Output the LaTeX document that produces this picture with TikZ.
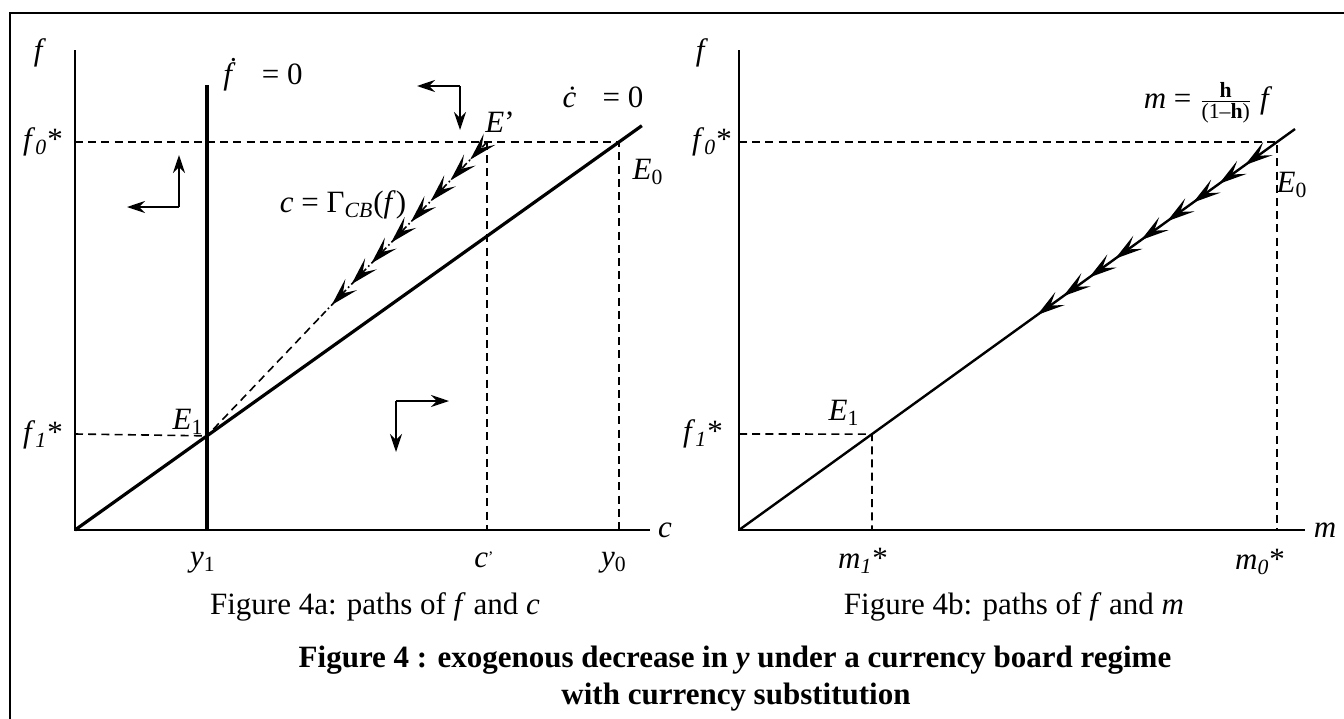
\documentclass[tikz,border=0pt]{standalone}
\usepackage{amsmath}
\usepackage{fontspec}
\setmainfont{Liberation Serif}
\usetikzlibrary{arrows.meta,decorations.markings,calc}

\tikzset{
  frame/.style={line width=1pt},
  axis/.style={line width=0.9pt},
  locus/.style={line width=1.6pt},
  ray/.style={line width=1.2pt},
  guide/.style={line width=0.8pt, dash pattern=on 4pt off 2.6pt},
  dashdotline/.style={line width=0.8pt, dash pattern=on 3.5pt off 1.5pt on 0.8pt off 1.5pt},
  turn/.style={line width=1pt, -{Stealth[length=9pt,width=6pt,inset=3pt]}},
  lbl/.style={inner sep=0pt, font=\fontsize{15.5}{18}\selectfont},
  % little arrows sitting on a path
  pathtips/.style args={#1 and #2 step #3}{postaction={decorate},
    decoration={markings, mark=between positions #1 and #2 step #3 with
      {\arrow{Stealth[length=14pt,width=8pt,inset=6pt]}}}}
}

\begin{document}
\begin{tikzpicture}[x=0.5pt,y=-0.5pt]

  \useasboundingbox (0,0) rectangle (1344,718);
  \clip (0,0) rectangle (1344,718);

  % outer frame (runs off the page at right and bottom)
  \draw[frame] (10,13) rectangle (1400,780);

  % left hand: f against c
  \scope
  \coordinate (O1) at (75,530);
  \coordinate (Ytop1) at (75,50);
  \coordinate (Xend1) at (650,530);
  \coordinate (Fdtop) at (207,85);
  \coordinate (Fdbot) at (207,530);
  \coordinate (E0a) at (619,142);
  \coordinate (E1a) at ($(O1)!{132/544}!(E0a)$);
  \coordinate (Cdend) at ($(O1)!1.042!(E0a)$);
  \coordinate (Ep) at (487,142);
  \coordinate (F0a) at (75,142);
  \coordinate (F1a) at (75,434);
  \coordinate (Cpb) at (487,530);
  \coordinate (Y0b) at (619,530);
  \coordinate (Gmid) at ($(Ep)!0.6!(E1a)$);

  \draw[axis] (Ytop1) -- (O1) -- (Xend1);
  \draw[locus] (Fdtop) -- (Fdbot);
  \draw[locus] (O1) -- (Cdend);
  \draw[guide] (F0a) -- (E0a) -- (Y0b);
  \draw[guide] (Ep) -- (Cpb);
  \draw[guide] (F1a) -- (E1a);
  \draw[dashdotline, pathtips=0.1 and 0.93 step 0.118] (Ep) -- (Gmid);
  \draw[guide] (Gmid) -- (E1a);

  % motion arrows
  \coordinate (Ka) at (179,207);
  \coordinate (Kb) at (460,86);
  \coordinate (Kc) at (396,401);
  \draw[turn] (Ka) -- (179,155);
  \draw[turn] (Ka) -- (127,207);
  \draw[turn] (Kb) -- (417,86);
  \draw[turn] (Kb) -- (460,130);
  \draw[turn] (Kc) -- (449,401);
  \draw[turn] (Kc) -- (396,452);

  \node[lbl] (fa) at (40,53) {\textit{f}};
  \node[lbl] (f0a) at (43,142) {\textit{f}\textsubscript{\textit{0}}*};
  \node[lbl] (f1a) at (43,435) {\textit{f}\textsubscript{\textit{1}}*};
  \node[lbl] (fdot) at (263,75) {\textit{\.{f}}\hspace{0.6em} = 0};
  \node[lbl] (cdot) at (603,97) {\textit{\.{c}}\hspace{0.6em} = 0};
  \node[lbl] (gam) at (343,205) {\textit{c} = Γ\textsubscript{\textit{CB}}(\textit{f})};
  \node[lbl] (Epl) at (500,122) {\textit{E}’};
  \node[lbl] (E0al) at (648,172) {\textit{E}\textsubscript{0}};
  \node[lbl] (E1al) at (188,422) {\textit{E}\textsubscript{1}};
  \node[lbl] (y1) at (203,563) {\textit{y}\textsubscript{1}};
  \node[lbl] (cp) at (484,560) {\textit{c}{\fontsize{8}{8}\selectfont\raisebox{0.3em}{’}}};
  \node[lbl] (y0) at (614,563) {\textit{y}\textsubscript{0}};
  \node[lbl] (ca) at (665,530) {\textit{c}};
  \node[lbl] (capa) at (375,607) {Figure 4a: paths of \textit{f} and \textit{c}};
  \endscope

  % right hand: f against m
  \scope
  \coordinate (O2) at (739,530);
  \coordinate (Ytop2) at (739,50);
  \coordinate (Xend2) at (1305,530);
  \coordinate (E0b) at (1277,142);
  \coordinate (E1b) at ($(O2)!{133/538}!(E0b)$);
  \coordinate (Mend) at ($(O2)!1.0335!(E0b)$);
  \coordinate (F0b) at (739,142);
  \coordinate (F1b) at (739,434);
  \coordinate (M1b) at (872,530);
  \coordinate (M0b) at (1277,530);

  \draw[axis] (Ytop2) -- (O2) -- (Xend2);
  \draw[ray, pathtips=0.09 and 0.47 step 0.0467] (Mend) -- (O2);
  \draw[guide] (F0b) -- (E0b) -- (M0b);
  \draw[guide] (F1b) -- (E1b) -- (M1b);

  \node[lbl] (fb) at (702,53) {\textit{f}};
  \node[lbl] (f0b) at (712,142) {\textit{f}\textsubscript{\textit{0}}*};
  \node[lbl] (f1b) at (703,434) {\textit{f}\textsubscript{\textit{1}}*};
  \node[lbl] (mrel) at (1208,103) {\textit{m} = $\frac{\text{\textbf{h}}}{\text{(1–\textbf{h})}}$ \textit{f}};
  \node[lbl] (E0bl) at (1292,185) {\textit{E}\textsubscript{0}};
  \node[lbl] (E1bl) at (844,413) {\textit{E}\textsubscript{1}};
  \node[lbl] (m1) at (863,561) {\textit{m}\textsubscript{\textit{1}}*};
  \node[lbl] (m0) at (1260,562) {\textit{m}\textsubscript{\textit{0}}*};
  \node[lbl] (ma) at (1325,530) {\textit{m}};
  \node[lbl] (capb) at (1014,607) {Figure 4b: paths of \textit{f} and \textit{m}};
  \endscope

  % title
  \node[lbl, font=\fontsize{15.5}{18}\bfseries] (title1) at (735,660)
    {Figure 4 : exogenous decrease in \textit{y} under a currency board regime};
  \node[lbl, font=\fontsize{15.5}{18}\bfseries] (title2) at (736,697)
    {with currency substitution};
\end{tikzpicture}
\end{document}
